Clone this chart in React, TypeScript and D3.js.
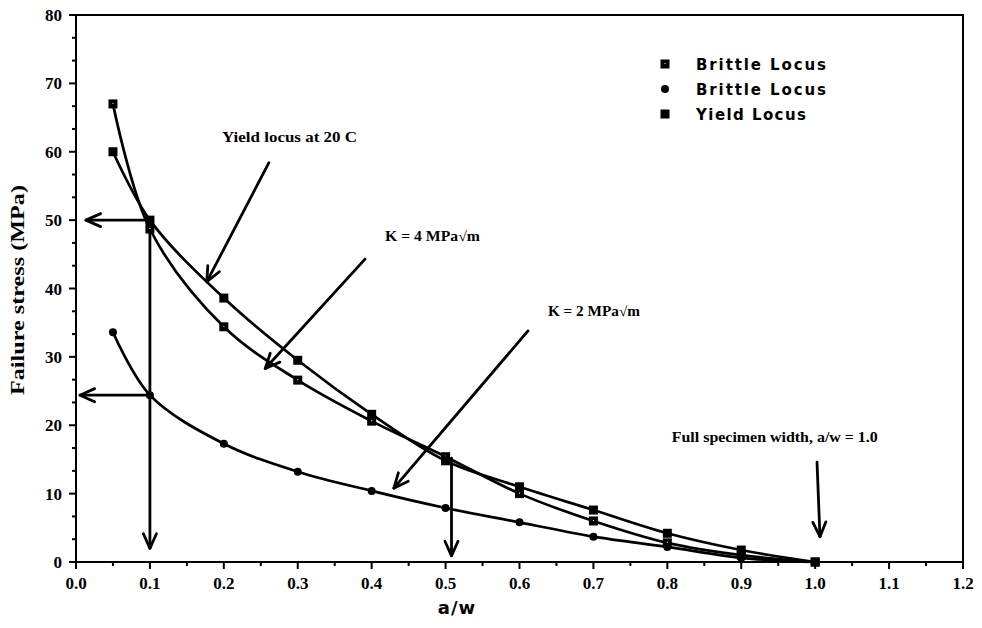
import React from "react";
import * as d3 from "d3";

// Crack length ratio a/w at which each locus was evaluated
const aw = [0.05, 0.1, 0.2, 0.3, 0.4, 0.5, 0.6, 0.7, 0.8, 0.9, 1.0];

// Failure stress (MPa) for each locus
const brittleK4 = [67.0, 48.7, 34.4, 26.6, 20.6, 15.4, 10.0, 6.0, 2.8, 1.0, 0];
const brittleK2 = [33.6, 24.4, 17.3, 13.2, 10.4, 7.9, 5.8, 3.7, 2.2, 0.6, 0];
const yieldLocus = [60.0, 50.0, 38.6, 29.5, 21.6, 14.8, 11.0, 7.6, 4.2, 1.75, 0];

const xTicks = [0, 0.1, 0.2, 0.3, 0.4, 0.5, 0.6, 0.7, 0.8, 0.9, 1.0, 1.1, 1.2];
const yTicks = [0, 10, 20, 30, 40, 50, 60, 70, 80];

const legendLabels = ["Brittle Locus", "Brittle Locus", "Yield Locus"];

// Annotation arrows in data units: [x1, y1, x2, y2] (head at x2, y2)
const arrows: [number, number, number, number][] = [
  [0.261, 58.4, 0.177, 41.0],
  [0.391, 44.3, 0.256, 28.3],
  [0.6115, 33.8, 0.43, 10.8],
  [1.0025, 14.6, 1.0065, 3.7],
  [0.1, 50.0, 0.0135, 50.0],
  [0.1, 24.4, 0.0054, 24.4],
  [0.1, 50.0, 0.1, 2.0],
  [0.508, 15.2, 0.508, 0.9],
];

// Annotation texts: [label, x (left), y (middle), width in px]
const notes: [string, number, number, number][] = [
  ["Yield locus at 20 C", 0.1975, 62.2, 135],
  ["K = 4 MPa\u221Am", 0.418, 47.7, 95],
  ["K = 2 MPa\u221Am", 0.6385, 36.7, 92],
  ["Full specimen width, a/w = 1.0", 0.806, 18.3, 206],
];

const W = 982;
const H = 628;
const left = 76;
const right = 963;
const top = 15;
const bottom = 562;

const serif = "'Liberation Serif', 'Times New Roman', serif";
const sans = "'DejaVu Sans', 'Liberation Sans', sans-serif";

export default function App() {
  const x = d3.scaleLinear().domain([0, 1.2]).range([left, right]);
  const y = d3.scaleLinear().domain([0, 80]).range([bottom, top]);

  const line = d3
    .line<number>()
    .x((_, i) => x(aw[i]))
    .y((d) => y(d))
    .curve(d3.curveCatmullRom.alpha(0.5));

  const series = [brittleK4, brittleK2, yieldLocus];

  const xMinor = d3.range(0, 1.2001, 0.05);
  const yMinor = d3.range(0, 80.001, 10 / 3);

  const sq = (cx: number, cy: number, dot: boolean, key: string) => (
    <g key={key}>
      <rect x={cx - 4.5} y={cy - 4.5} width={9} height={9} fill="#000" />
      {dot && <rect x={cx - 0.5} y={cy - 1} width={1} height={1} fill="#fff" />}
    </g>
  );
  const circ = (cx: number, cy: number, key: string) => (
    <circle key={key} cx={cx} cy={cy} r={4} fill="#000" />
  );

  const arrowEl = (a: [number, number, number, number], i: number) => {
    const [x1, y1, x2, y2] = [x(a[0]), y(a[1]), x(a[2]), y(a[3])];
    const ang = Math.atan2(y2 - y1, x2 - x1);
    const L = 16;
    const spread = 0.42;
    const p1 = [x2 - L * Math.cos(ang - spread), y2 - L * Math.sin(ang - spread)];
    const p2 = [x2 - L * Math.cos(ang + spread), y2 - L * Math.sin(ang + spread)];
    return (
      <g key={"arr" + i} stroke="#000" strokeWidth={2.8} fill="none" strokeLinecap="round" strokeLinejoin="round">
        <line x1={x1} y1={y1} x2={x2} y2={y2} />
        <polyline points={`${p1[0]},${p1[1]} ${x2},${y2} ${p2[0]},${p2[1]}`} />
      </g>
    );
  };

  return (
    <svg
      width={W}
      height={H}
      style={{ position: "absolute", left: 0, top: 0, background: "#fff" }}
    >
      <rect x={0} y={0} width={W} height={H} fill="#fff" />

      {/* frame */}
      <rect x={left} y={top} width={right - left} height={bottom - top} fill="none" stroke="#000" strokeWidth={2} />

      {/* x ticks */}
      {xMinor.map((v, i) => {
        const major = i % 2 === 0;
        return (
          <line key={"xm" + i} x1={x(v)} x2={x(v)} y1={bottom} y2={bottom + (major ? 7 : 4)} stroke="#000" strokeWidth={2} />
        );
      })}
      {xTicks.map((v) => (
        <text
          key={"xt" + v}
          x={x(v)}
          y={bottom + 27}
          textAnchor="middle"
          fontFamily={serif}
          fontWeight="bold"
          fontSize={17}
        >
          {v.toFixed(1)}
        </text>
      ))}

      {/* y ticks */}
      {yMinor.map((v, i) => {
        const major = i % 3 === 0;
        return (
          <line key={"ym" + i} x1={left - (major ? 7 : 4)} x2={left} y1={y(v)} y2={y(v)} stroke="#000" strokeWidth={2} />
        );
      })}
      {yTicks.map((v) => (
        <text
          key={"yt" + v}
          x={left - 14}
          y={y(v) + 6}
          textAnchor="end"
          fontFamily={serif}
          fontWeight="bold"
          fontSize={17}
        >
          {v}
        </text>
      ))}

      {/* axis titles */}
      <text x={457} y={614} textAnchor="middle" fontFamily={sans} fontWeight="bold" fontSize={18} letterSpacing={1}>
        a/w
      </text>
      <text
        transform={`translate(24, 290) rotate(-90)`}
        textAnchor="middle"
        fontFamily={serif}
        fontWeight="bold"
        fontSize={19}
        textLength={210}
        lengthAdjust="spacingAndGlyphs"
      >
        Failure stress (MPa)
      </text>

      {/* curves */}
      {series.map((s, i) => (
        <path key={"c" + i} d={line(s) || ""} fill="none" stroke="#000" strokeWidth={2.7} />
      ))}

      {/* annotation arrows */}
      {arrows.map(arrowEl)}

      {/* markers */}
      {brittleK4.map((v, i) => sq(x(aw[i]), y(v), true, "k4" + i))}
      {yieldLocus.map((v, i) => sq(x(aw[i]), y(v), false, "yl" + i))}
      {brittleK2.map((v, i) => circ(x(aw[i]), y(v), "k2" + i))}

      {/* annotation text */}
      {notes.map(([t, nx, ny, w]) => (
        <text
          key={t}
          x={x(nx)}
          y={y(ny) + 5}
          fontFamily={serif}
          fontWeight="bold"
          fontSize={14}
          textLength={w}
          lengthAdjust="spacingAndGlyphs"
        >
          {t}
        </text>
      ))}

      {/* legend */}
      {legendLabels.map((t, i) => {
        const ly = 64 + i * 25;
        return (
          <g key={"lg" + i}>
            {i === 1 ? circ(665, ly, "lgm" + i) : sq(665, ly, i === 0, "lgm" + i)}
            <text
              x={696}
              y={ly + 6}
              fontFamily={sans}
              fontWeight="bold"
              fontSize={15}
              textLength={i === 2 ? 110 : 130}
              lengthAdjust="spacing"
            >
              {t}
            </text>
          </g>
        );
      })}
    </svg>
  );
}
